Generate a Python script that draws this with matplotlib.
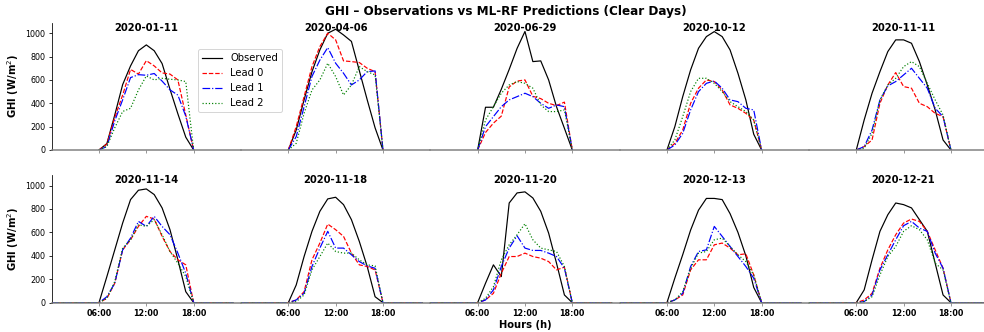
#!/usr/bin/env python

#import libs
import numpy as np
import matplotlib
matplotlib.use("Agg")
import matplotlib.pyplot as plt

#clear-sky days shown in the grid (row by row)
dates = ["2020-01-11", "2020-04-06", "2020-06-29", "2020-10-12", "2020-11-11",
         "2020-11-14", "2020-11-18", "2020-11-20", "2020-12-13", "2020-12-21"]

#daytime hours (06:00 -> 18:00)
hours = list(range(6, 19))

#GHI values (W/m2) read for each day at the hours above
observed = [
    [0, 55, 300, 560, 720, 850, 900, 850, 740, 520, 310, 110, 0],
    [0, 171, 430, 670, 857, 1000, 1034, 985, 930, 680, 430, 190, 0],
    [0, 366, 366, 520, 690, 870, 1015, 757, 763, 600, 370, 186, 0],
    [0, 200, 457, 686, 871, 971, 1014, 971, 857, 657, 429, 135, 0],
    [0, 257, 486, 671, 843, 943, 943, 914, 757, 557, 343, 86, 0],
    [0, 223, 451, 680, 880, 960, 971, 923, 809, 623, 366, 94, 0],
    [0, 151, 394, 609, 780, 886, 900, 837, 709, 523, 309, 51, 0],
    [0, 166, 323, 223, 851, 937, 946, 894, 780, 594, 337, 66, 0],
    [0, 210, 410, 620, 790, 890, 890, 880, 760, 600, 400, 130, 0],
    [0, 109, 366, 609, 751, 851, 837, 809, 709, 609, 337, 66, 0],
]
lead0 = [
    [0, 50, 280, 470, 690, 650, 765, 720, 660, 650, 600, 300, 0],
    [0, 200, 457, 714, 886, 1000, 943, 763, 757, 749, 700, 671, 0],
    [0, 150, 230, 290, 540, 590, 600, 460, 440, 400, 380, 410, 0],
    [0, 57, 171, 400, 529, 600, 586, 514, 386, 357, 314, 257, 0],
    [0, 29, 86, 400, 557, 663, 543, 529, 400, 371, 314, 286, 0],
    [0, 37, 166, 451, 537, 651, 737, 714, 566, 437, 366, 323, 0],
    [0, 23, 94, 366, 509, 671, 623, 566, 423, 323, 309, 280, 0],
    [0, 23, 80, 251, 394, 394, 423, 394, 380, 351, 280, 303, 0],
    [0, 23, 66, 280, 366, 366, 494, 509, 466, 409, 417, 237, 0],
    [0, 23, 80, 294, 451, 580, 680, 714, 694, 609, 451, 294, 0],
]
lead1 = [
    [0, 30, 250, 430, 620, 645, 640, 655, 590, 515, 470, 290, 0],
    [0, 114, 370, 630, 770, 877, 743, 657, 557, 600, 671, 677, 0],
    [0, 200, 286, 371, 429, 457, 486, 457, 400, 357, 386, 371, 0],
    [0, 43, 143, 343, 500, 571, 591, 529, 429, 414, 357, 343, 0],
    [0, 29, 171, 429, 549, 586, 643, 700, 614, 529, 357, 286, 0],
    [0, 51, 166, 451, 551, 694, 651, 737, 651, 580, 423, 251, 0],
    [0, 23, 80, 309, 466, 609, 466, 466, 409, 351, 314, 294, 0],
    [0, 23, 109, 309, 466, 571, 466, 446, 446, 423, 394, 294, 0],
    [0, 23, 80, 309, 437, 451, 651, 566, 480, 394, 309, 209, 0],
    [0, 9, 66, 280, 409, 537, 657, 694, 637, 609, 423, 294, 0],
]
lead2 = [
    [0, 30, 190, 330, 357, 514, 634, 600, 614, 606, 600, 586, 0],
    [0, 57, 314, 514, 600, 743, 629, 471, 557, 714, 671, 643, 0],
    [0, 257, 371, 486, 557, 586, 571, 529, 386, 329, 329, 343, 0],
    [0, 86, 286, 500, 614, 614, 571, 500, 414, 371, 329, 257, 0],
    [0, 14, 143, 429, 557, 614, 714, 757, 714, 571, 429, 300, 0],
    [0, 37, 180, 466, 537, 666, 651, 709, 580, 437, 337, 223, 0],
    [0, 9, 66, 280, 394, 509, 437, 423, 423, 366, 323, 314, 0],
    [0, 37, 137, 366, 494, 580, 674, 537, 466, 451, 437, 309, 0],
    [0, 23, 94, 294, 423, 437, 537, 551, 480, 409, 351, 237, 0],
    [0, 9, 51, 237, 394, 480, 609, 657, 623, 537, 337, 280, 0],
]

#the bottom row was plotted with the full 24h (zeros at night)
full_day = [False] * 5 + [True] * 5

series = [(observed, "Observed", "black", "-"),
          (lead0, "Lead 0", "red", "--"),
          (lead1, "Lead 1", "blue", "-."),
          (lead2, "Lead 2", "green", ":")]

#figure and manual axes grid (panels touch each other)
dpi = 72
fig = plt.figure(figsize=(984 / dpi, 332 / dpi), dpi=dpi)
left, width = 0.0525, 0.1924
rows_y = [(0.5482, 0.3834), (0.0883, 0.3846)]

axes = []
for i, day in enumerate(dates):
    r, c = divmod(i, 5)
    b, h = rows_y[r]
    ax = fig.add_axes([left + c * width, b, width, h])
    ax.set_facecolor("none")
    axes.append(ax)

    for vals, label, color, ls in series:
        if full_day[i]:
            x = np.arange(24)
            y = np.zeros(24)
            y[hours[0]:hours[-1] + 1] = vals[i]
        else:
            x = hours
            y = vals[i]
        ax.plot(x, y, color=color, linestyle=ls, linewidth=1.2, label=label)

    ax.set_xlim(0, 24)
    ax.set_ylim(0, 1090)
    ax.set_xticks([6, 12, 18])
    ax.set_title(day, fontsize=10, fontweight="bold", y=0.935, pad=0)

    #cleanup spines
    ax.spines["top"].set_visible(False)
    ax.spines["right"].set_visible(False)
    ax.spines["bottom"].set_color("gray")
    ax.spines["bottom"].set_linewidth(1.5)
    ax.tick_params(axis="x", colors="gray", labelcolor="black", labelsize=8, length=3)
    ax.tick_params(axis="y", labelsize=8, length=3)

    if c == 0:
        ax.set_yticks([0, 200, 400, 600, 800, 1000])
        ax.set_ylabel("GHI (W/m$^2$)", fontsize=10, fontweight="bold")
    else:
        ax.spines["left"].set_visible(False)
        ax.set_yticks([])

    if r == 0:
        ax.set_xticklabels([])
    else:
        ax.set_xticklabels(["06:00", "12:00", "18:00"], fontweight="bold")

axes[7].set_xlabel("Hours (h)", fontsize=10, fontweight="bold", labelpad=2)

axes[0].legend(loc="upper left", bbox_to_anchor=(0.773, 0.793), borderaxespad=0,
               fontsize=10)

fig.text(0.514, 0.964, "GHI \u2013 Observations vs ML-RF Predictions (Clear Days)",
         ha="center", va="center", fontsize=12, fontweight="bold")

plt.savefig("out.png", dpi=dpi)
